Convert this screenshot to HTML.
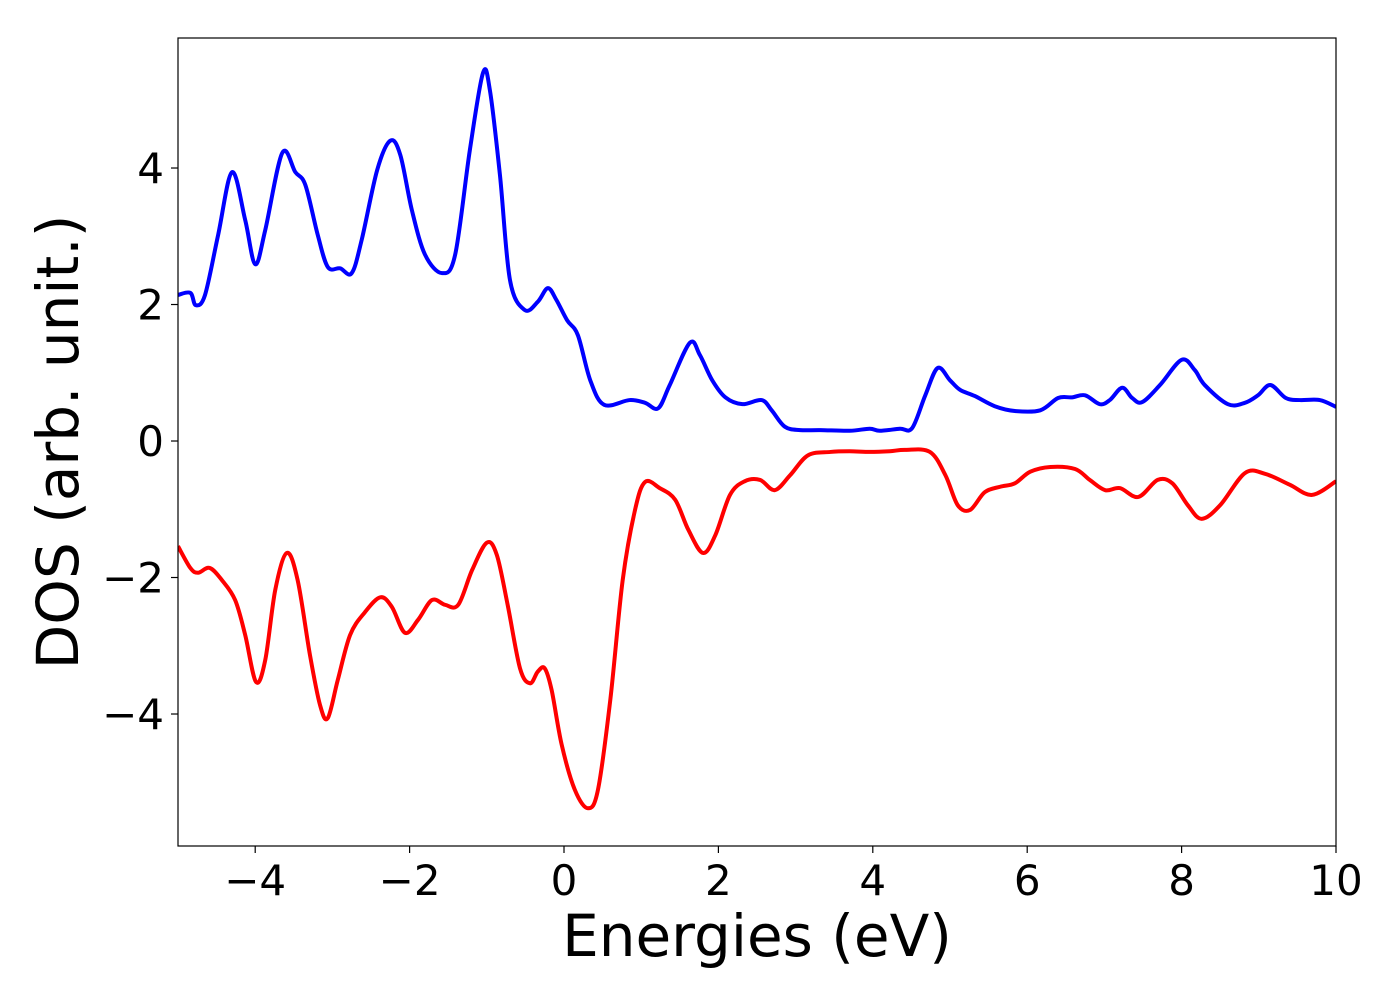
<!DOCTYPE html>
<html><head><meta charset="utf-8"><style>
html,body{margin:0;padding:0;background:#fff;}
svg{display:block;font-family:"DejaVu Sans","Liberation Sans",sans-serif;}
</style></head><body>
<svg id="chart" width="1400" height="1000"></svg>
<script>
const energies=[-5,-4.84,-4.77,-4.65,-4.48,-4.30,-4.13,-4.0,-3.87,-3.65,-3.48,-3.35,-3.19,-3.06,-2.90,-2.75,-2.62,-2.42,-2.25,-2.12,-1.97,-1.80,-1.58,-1.41,-1.22,-1.05,-0.96,-0.83,-0.70,-0.51,-0.34,-0.21,-0.10,0.04,0.18,0.34,0.52,0.85,1.05,1.22,1.37,1.63,1.76,1.92,2.09,2.31,2.56,2.69,2.86,3.06,3.32,3.70,3.96,4.09,4.35,4.51,4.68,4.84,5.0,5.13,5.32,5.58,5.84,6.17,6.40,6.58,6.75,6.94,7.07,7.23,7.36,7.49,7.72,8.0,8.17,8.30,8.60,8.82,8.99,9.15,9.35,9.53,9.79,10.0];
const dosUp=[2.14,2.17,1.99,2.14,3.02,3.94,3.24,2.59,3.09,4.22,3.94,3.75,3.02,2.55,2.53,2.46,2.95,3.97,4.40,4.19,3.38,2.73,2.46,2.73,4.26,5.39,5.14,3.90,2.36,1.92,2.04,2.24,2.07,1.77,1.55,0.89,0.53,0.60,0.56,0.48,0.82,1.44,1.26,0.89,0.64,0.54,0.60,0.45,0.21,0.16,0.16,0.15,0.18,0.15,0.18,0.19,0.67,1.07,0.89,0.75,0.66,0.51,0.44,0.45,0.63,0.64,0.67,0.54,0.60,0.78,0.63,0.57,0.82,1.19,1.04,0.82,0.54,0.56,0.67,0.82,0.63,0.60,0.60,0.50];
const energiesDn=[-5,-4.84,-4.74,-4.59,-4.43,-4.26,-4.13,-3.99,-3.87,-3.74,-3.59,-3.45,-3.29,-3.16,-3.06,-2.93,-2.77,-2.58,-2.38,-2.23,-2.06,-1.89,-1.71,-1.54,-1.37,-1.19,-1.0,-0.87,-0.73,-0.57,-0.44,-0.34,-0.25,-0.16,-0.03,0.14,0.31,0.44,0.60,0.76,0.92,1.05,1.24,1.44,1.61,1.80,1.96,2.15,2.34,2.54,2.73,2.93,3.16,3.45,3.70,3.96,4.22,4.42,4.74,4.94,5.10,5.26,5.45,5.65,5.84,6.04,6.30,6.62,6.81,7.01,7.20,7.44,7.69,7.88,8.08,8.26,8.50,8.82,9.08,9.40,9.69,10.0];
const dosDown=[-1.54,-1.86,-1.93,-1.86,-2.04,-2.33,-2.84,-3.53,-3.21,-2.18,-1.64,-2.04,-3.14,-3.87,-4.06,-3.50,-2.84,-2.51,-2.29,-2.43,-2.81,-2.62,-2.33,-2.40,-2.40,-1.89,-1.49,-1.67,-2.40,-3.33,-3.55,-3.38,-3.33,-3.65,-4.45,-5.11,-5.38,-5.11,-3.79,-2.04,-1.01,-0.60,-0.69,-0.86,-1.30,-1.64,-1.38,-0.79,-0.59,-0.57,-0.72,-0.50,-0.21,-0.16,-0.15,-0.16,-0.15,-0.13,-0.16,-0.50,-0.94,-1.01,-0.75,-0.67,-0.62,-0.45,-0.38,-0.41,-0.57,-0.72,-0.69,-0.82,-0.57,-0.62,-0.94,-1.14,-0.94,-0.47,-0.48,-0.64,-0.79,-0.59];
const xTicks=[-4,-2,0,2,4,6,8,10];
const yTicks=[-4,-2,0,2,4];

const L=178,R=1336,T=38,B=846;
const xMin=-5,xMax=10,yMin=-5.934,yMax=5.905;
const sx=v=>L+(v-xMin)/(xMax-xMin)*(R-L);
const sy=v=>B-(v-yMin)/(yMax-yMin)*(B-T);
const svg=document.getElementById('chart');
const NS='http://www.w3.org/2000/svg';
function mk(tag,attrs){const e=document.createElementNS(NS,tag);for(const k in attrs)e.setAttribute(k,attrs[k]);svg.appendChild(e);return e;}
function label(v){return v<0?'\u2212'+Math.abs(v):String(v);}
function smooth(xs,ys){
  const p=xs.map((x,i)=>[sx(x),sy(ys[i])]);
  let d='M'+p[0][0]+','+p[0][1];
  for(let i=0;i<p.length-1;i++){
    const p0=p[Math.max(0,i-1)],p1=p[i],p2=p[i+1],p3=p[Math.min(p.length-1,i+2)];
    const c1=[p1[0]+(p2[0]-p0[0])/6,p1[1]+(p2[1]-p0[1])/6];
    const c2=[p2[0]-(p3[0]-p1[0])/6,p2[1]-(p3[1]-p1[1])/6];
    d+=' C'+c1[0]+','+c1[1]+' '+c2[0]+','+c2[1]+' '+p2[0]+','+p2[1];
  }
  return d;
}
const clip=mk('clipPath',{id:'pc'});
const cr=document.createElementNS(NS,'rect');cr.setAttribute('x',L);cr.setAttribute('y',T);cr.setAttribute('width',R-L);cr.setAttribute('height',B-T);clip.appendChild(cr);

const up=mk('path',{d:smooth(energies,dosUp),fill:'none',stroke:'#0000ff','stroke-width':4,'clip-path':'url(#pc)'});


const dn=mk('path',{d:smooth(energiesDn,dosDown),fill:'none',stroke:'#ff0000','stroke-width':4,'clip-path':'url(#pc)'});



const frame=mk('rect',{x:L,y:T,width:R-L,height:B-T,fill:'none',stroke:'#000','stroke-width':1.2});



xTicks.forEach(v=>{
  const t=mk('line',{x1:sx(v),x2:sx(v),y1:B,y2:B+7,stroke:'#000','stroke-width':1.2});
  
  
  const tx=mk('text',{x:sx(v),y:B+49,'text-anchor':'middle','font-size':42,fill:'#000'});
  tx.textContent=label(v);
  
  
});
yTicks.forEach(v=>{
  const t=mk('line',{x1:L-7,x2:L,y1:sy(v),y2:sy(v),stroke:'#000','stroke-width':1.2});
  
  
  const tx=mk('text',{x:L-14,y:sy(v)+15,'text-anchor':'end','font-size':42,fill:'#000'});
  tx.textContent=label(v);
  
  
});
const xt=mk('text',{x:(L+R)/2,y:956,'text-anchor':'middle','font-size':58,fill:'#000'});
xt.textContent='Energies (eV)';


const yt=mk('text',{x:0,y:0,'text-anchor':'middle','font-size':58,fill:'#000',transform:'translate(78,442) rotate(-90)'});
yt.textContent='DOS (arb. unit.)';


</script>
</body></html>
